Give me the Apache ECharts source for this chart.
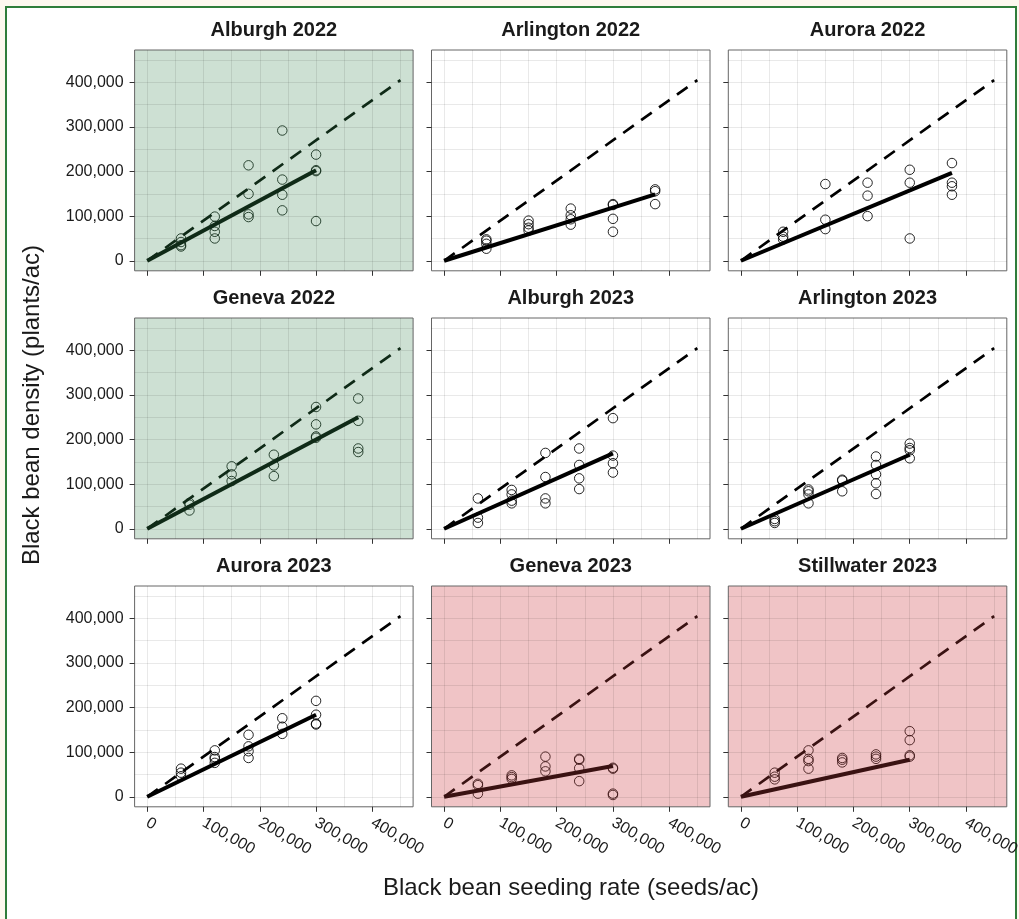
<!DOCTYPE html>
<html><head><meta charset="utf-8">
<script src="https://cdn.jsdelivr.net/npm/echarts@6/dist/echarts.min.js"></script>
<style>
html,body{margin:0;padding:0;background:#fdf8ef;overflow:hidden;}
#frame{position:absolute;left:5px;top:6px;width:1012px;height:930px;border:2px solid #2f7d3b;background:#fff;box-sizing:border-box;}
#chart{position:absolute;left:0;top:0;width:1019px;height:919px;}
</style></head>
<body><div id="frame"></div><div id="chart"></div>
<script>
// ---------- data ----------
const panelTitles = ['Alburgh 2022','Arlington 2022','Aurora 2022','Geneva 2022','Alburgh 2023','Arlington 2023','Aurora 2023','Geneva 2023','Stillwater 2023'];
const xTickValues = [0,100000,200000,300000,400000];
const yTickValues = [0,100000,200000,300000,400000];
const gridValues = [0,50000,100000,150000,200000,250000,300000,350000,400000,450000];
const refLineX = [0,450000];
const refLineY = [0,405000];
const fitMaxRate = [300000,375000,375000,375000,300000,300000,300000,300000,300000];
const fitEndDensity = [203000,149000,197000,250000,169000,166000,184000,69000,83000];
const xTitle = 'Black bean seeding rate (seeds/ac)';
const yTitle = 'Black bean density (plants/ac)';

const alburgh2022 = [[60000,50000],[60000,42000],[60000,35000],[60000,32000],[120000,99000],[120000,78000],[120000,65000],[120000,50000],[180000,214000],[180000,150000],[180000,104000],[180000,98000],[240000,292000],[240000,182000],[240000,148000],[240000,113000],[300000,238000],[300000,203000],[300000,201000],[300000,89000]];
const arlington2022 = [[75000,48000],[75000,45000],[75000,38000],[75000,27000],[150000,90000],[150000,82000],[150000,74000],[150000,68000],[225000,117000],[225000,102000],[225000,93000],[225000,81000],[300000,127000],[300000,125000],[300000,94000],[300000,65000],[375000,160000],[375000,156000],[375000,127000]];
const aurora2022 = [[75000,65000],[75000,54000],[75000,48000],[150000,172000],[150000,92000],[150000,71000],[225000,175000],[225000,146000],[225000,100000],[300000,204000],[300000,175000],[300000,50000],[375000,219000],[375000,175000],[375000,167000],[375000,148000]];
const geneva2022 = [[75000,58000],[75000,54000],[75000,41000],[150000,140000],[150000,122000],[150000,107000],[225000,166000],[225000,142000],[225000,118000],[300000,273000],[300000,234000],[300000,207000],[300000,204000],[375000,292000],[375000,242000],[375000,180000],[375000,172000]];
const alburgh2023 = [[60000,68000],[60000,25000],[60000,13000],[120000,87000],[120000,77000],[120000,63000],[120000,57000],[180000,170000],[180000,116000],[180000,68000],[180000,57000],[240000,180000],[240000,143000],[240000,113000],[240000,89000],[300000,248000],[300000,164000],[300000,147000],[300000,126000]];
const arlington2023 = [[60000,22000],[60000,17000],[60000,13000],[120000,88000],[120000,84000],[120000,77000],[120000,57000],[180000,110000],[180000,108000],[180000,84000],[240000,162000],[240000,143000],[240000,122000],[240000,102000],[240000,78000],[300000,191000],[300000,181000],[300000,176000],[300000,158000]];
const aurora2023 = [[60000,63000],[60000,54000],[60000,46000],[120000,104000],[120000,89000],[120000,85000],[120000,76000],[180000,139000],[180000,113000],[180000,102000],[180000,87000],[240000,176000],[240000,157000],[240000,141000],[300000,215000],[300000,184000],[300000,164000],[300000,162000]];
const geneva2023 = [[60000,29000],[60000,26000],[60000,7000],[120000,48000],[120000,44000],[120000,40000],[180000,90000],[180000,68000],[180000,57000],[240000,85000],[240000,83000],[240000,64000],[240000,35000],[300000,65000],[300000,63000],[300000,7000],[300000,4000]];
const stillwater2023 = [[60000,54000],[60000,45000],[60000,39000],[120000,104000],[120000,85000],[120000,80000],[120000,63000],[180000,87000],[180000,83000],[180000,77000],[240000,95000],[240000,90000],[240000,85000],[300000,147000],[300000,127000],[300000,93000],[300000,90000]];
const panelPoints = [alburgh2022,arlington2022,aurora2022,geneva2022,alburgh2023,arlington2023,aurora2023,geneva2023,stillwater2023];

// ---------- styles / layout ----------
const panelShade = ['green','none','none','green','none','none','none','red','red'];
const shadeFill = {green:'#cde0d3', red:'#f0c4c6', none:'#ffffff'};
const shadeInk = {green:'#0f2a17', red:'#3a1212', none:'#000000'};
const FONT = '"Liberation Sans", Arial, sans-serif';
const colLeft = [134.6, 431.5, 728.3];
const rowTop = [50, 318, 586];
const PW = 278.5, PH = 220.8;
const AX_MIN = -22500, AX_MAX = 472500;

const grids = [], xAxes = [], yAxes = [], series = [], graphics = [];
panelTitles.forEach((t, i) => {
  const r = Math.floor(i / 3), c = i % 3;
  const shade = panelShade[i];
  const ink = shadeInk[shade];
  grids.push({left: colLeft[c], top: rowTop[r], width: PW, height: PH, show: true,
    backgroundColor: shadeFill[shade], borderColor: '#666', borderWidth: 1, containLabel: false, outerBoundsMode: 'none'});
  // main x axis (grid lines + labels)
  xAxes.push({gridIndex: i, type: 'value', min: AX_MIN, max: AX_MAX, position: 'bottom',
    axisLine: {show: false, onZero: false},
    axisTick: {show: false, customValues: gridValues},
    splitLine: {show: true, lineStyle: {color: 'rgba(0,0,0,0.085)', width: 1}},
    axisLabel: {show: r === 2, customValues: xTickValues, rotate: -30, fontSize: 16, color: '#1a1a1a', fontFamily: FONT, margin: 15}
  });
  // tick x axis
  xAxes.push({gridIndex: i, type: 'value', min: AX_MIN, max: AX_MAX, position: 'bottom',
    axisLine: {show: false, onZero: false},
    axisTick: {show: true, customValues: xTickValues, length: 5, lineStyle: {color: '#333', width: 1}},
    splitLine: {show: false}, axisLabel: {show: false}
  });
  yAxes.push({gridIndex: i, type: 'value', min: AX_MIN, max: AX_MAX, position: 'left',
    axisLine: {show: false, onZero: false},
    axisTick: {show: false, customValues: gridValues},
    splitLine: {show: true, lineStyle: {color: 'rgba(0,0,0,0.085)', width: 1}},
    axisLabel: {show: c === 0, customValues: yTickValues, fontSize: 16, color: '#1a1a1a', fontFamily: FONT, margin: 11}
  });
  yAxes.push({gridIndex: i, type: 'value', min: AX_MIN, max: AX_MAX, position: 'left',
    axisLine: {show: false, onZero: false},
    axisTick: {show: true, customValues: yTickValues, length: 5, lineStyle: {color: '#333', width: 1}},
    splitLine: {show: false}, axisLabel: {show: false}
  });
  series.push({type: 'line', xAxisIndex: 2 * i, yAxisIndex: 2 * i,
    data: refLineX.map((x, k) => [x, refLineY[k]]), showSymbol: false, symbol: 'none', silent: true,
    lineStyle: {color: ink, width: 2.7, type: [13, 9]}, z: 3});
  series.push({type: 'line', xAxisIndex: 2 * i, yAxisIndex: 2 * i,
    data: [[0, 0], [fitMaxRate[i], fitEndDensity[i]]], showSymbol: false, symbol: 'none', silent: true,
    lineStyle: {color: ink, width: 4}, z: 4});
  series.push({type: 'scatter', xAxisIndex: 2 * i, yAxisIndex: 2 * i,
    data: panelPoints[i], symbol: 'circle', symbolSize: 9.5, silent: true,
    itemStyle: {color: 'rgba(0,0,0,0)', borderColor: ink, borderWidth: 1, opacity: 0.85}, z: 5});
  graphics.push({type: 'text', x: colLeft[c] + PW / 2, y: rowTop[r] - 20,
    style: {text: t, align: 'center', verticalAlign: 'middle', font: 'bold 20px ' + FONT, fill: '#1a1a1a'}});
});
graphics.push({type: 'text', x: 571, y: 888,
  style: {text: xTitle, align: 'center', verticalAlign: 'middle', font: '24px ' + FONT, fill: '#1a1a1a'}});
graphics.push({type: 'text', x: 32, y: 405, rotation: Math.PI / 2,
  style: {text: yTitle, align: 'center', verticalAlign: 'middle', font: '24px ' + FONT, fill: '#1a1a1a'}});

const chart = echarts.init(document.getElementById('chart'), null, {renderer: 'canvas'});
chart.setOption({
  animation: false,
  backgroundColor: 'transparent',
  grid: grids, xAxis: xAxes, yAxis: yAxes, series: series, graphic: graphics
});
</script></body></html>
